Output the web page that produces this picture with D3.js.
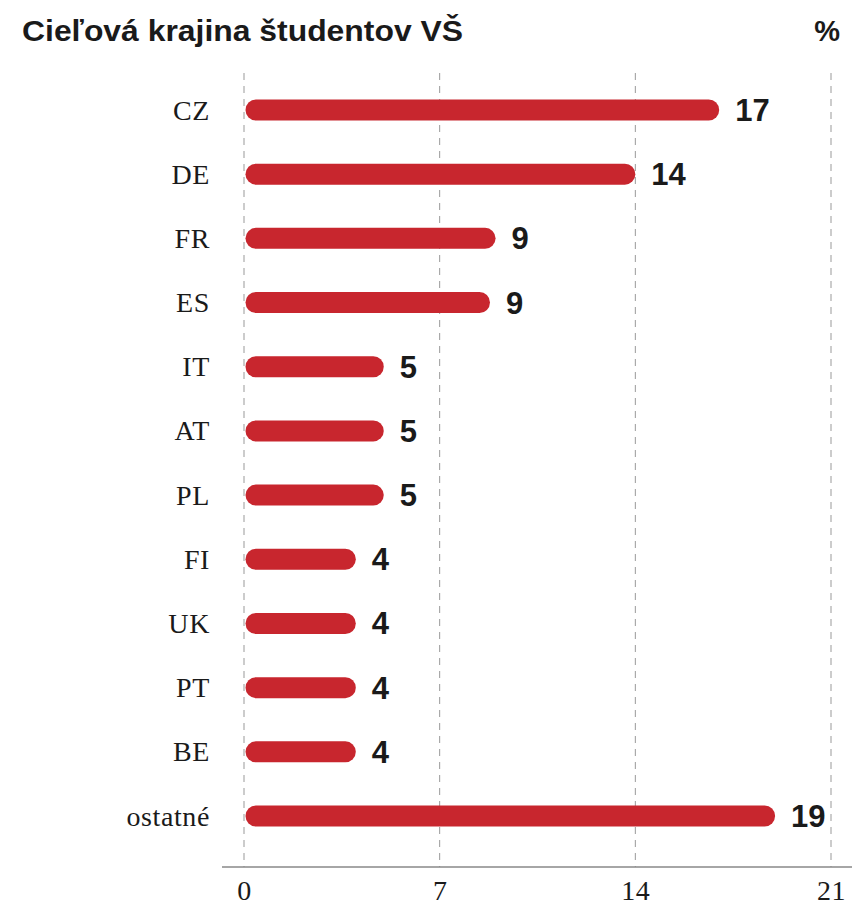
<!DOCTYPE html>
<html>
<head>
  <meta charset="utf-8">
  <style>
    body { margin: 0; background: #fff; }
    svg { display: block; }
  </style>
</head>
<body>
  <svg id="viz"></svg>
  <script src="https://d3js.org/d3.v7.min.js"></script>
  <script>
    var width = 852, height = 912;

    var countries = ["CZ", "DE", "FR", "ES", "IT", "AT", "PL", "FI", "UK", "PT", "BE", "ostatné"];
    var shares = [17, 14, 9, 8.8, 5, 5, 5, 4, 4, 4, 4, 19];
    var ticks = [0, 7, 14, 21];

    var red = "#c8262e";
    var serif = "'Liberation Serif', 'Times New Roman', serif";
    var sans = "'Liberation Sans', Arial, sans-serif";

    var svg = d3.select("#viz").attr("width", width).attr("height", height);

    var x = d3.scaleLinear().domain([0, 21]).range([244, 831]);
    var y = d3.scalePoint().domain(countries).range([110, 816]);
    var barH = 21;
    var axisY = 867;

    // title
    svg.append("text")
      .attr("x", 22).attr("y", 41)
      .attr("textLength", 441).attr("lengthAdjust", "spacingAndGlyphs")
      .style("font-family", sans).style("font-weight", "bold")
      .style("font-size", "29px").style("fill", "#1a1a1a")
      .text("Cieľová krajina študentov VŠ");

    svg.append("text")
      .attr("x", 840).attr("y", 41).attr("text-anchor", "end")
      .style("font-family", sans).style("font-weight", "bold")
      .style("font-size", "29px").style("fill", "#1a1a1a")
      .text("%");

    // grid
    svg.append("g").selectAll("line")
      .data(ticks)
      .enter()
      .append("line")
      .attr("x1", function(d) { return x(d); })
      .attr("x2", function(d) { return x(d); })
      .attr("y1", 73).attr("y2", axisY)
      .attr("stroke", "#999")
      .attr("stroke-width", 1)
      .attr("stroke-dasharray", "7,6");

    // axis
    var axis = svg.append("g").attr("transform", "translate(0," + axisY + ")")
      .call(d3.axisBottom(x).tickValues(ticks).tickSize(0).tickPadding(13));
    axis.select(".domain").remove();
    axis.append("line")
      .attr("x1", 222).attr("x2", 852)
      .attr("stroke", "#888").attr("stroke-width", 1.5);
    axis.selectAll("text")
      .style("font-family", serif).style("font-size", "28px")
      .style("letter-spacing", "0.5px").style("fill", "#1a1a1a");

    // bars
    svg.append("g").selectAll("rect")
      .data(shares)
      .enter()
      .append("rect")
      .attr("x", x(0) + 1.5)
      .attr("y", function(d, i) { return y(countries[i]) - barH / 2; })
      .attr("width", function(d) { return x(d) - x(0) - 1.5; })
      .attr("height", barH)
      .attr("rx", barH / 2)
      .attr("fill", red);

    // category labels
    svg.append("g").selectAll("text")
      .data(countries)
      .enter()
      .append("text")
      .attr("x", 210)
      .attr("y", function(d) { return y(d) + 9.5; })
      .attr("text-anchor", "end")
      .style("font-family", serif).style("font-size", "28px")
      .style("letter-spacing", "0.6px").style("fill", "#1a1a1a")
      .text(function(d) { return d; });

    // value labels
    svg.append("g").selectAll("text")
      .data(shares)
      .enter()
      .append("text")
      .attr("x", function(d) { return x(d) + 16; })
      .attr("y", function(d, i) { return y(countries[i]) + 11; })
      .style("font-family", sans).style("font-weight", "bold")
      .style("font-size", "31px").style("fill", "#1a1a1a")
      .text(function(d) { return Math.round(d); });
  </script>
</body>
</html>
